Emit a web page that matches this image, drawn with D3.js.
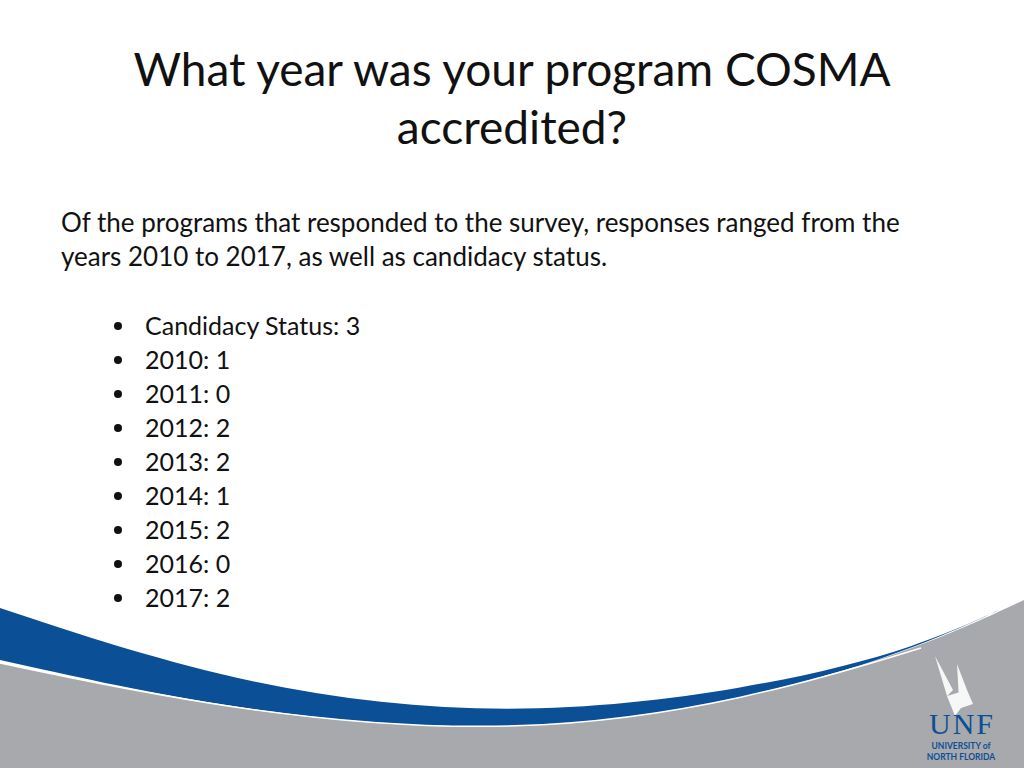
<!DOCTYPE html>
<html><head><meta charset="utf-8">
<script src="https://cdn.jsdelivr.net/npm/d3@7"></script>
<style>body{margin:0;background:#fff}svg{display:block}</style>
</head><body>
<svg id="slide" width="1024" height="768"></svg>
<script>
'use strict';

var titleLines = ['What year was your program COSMA', 'accredited?'];
var introLines = ['Of the programs that responded to the survey, responses ranged from the',
  'years 2010 to 2017, as well as candidacy status.'];
var categories = ['Candidacy Status', '2010', '2011', '2012', '2013', '2014', '2015', '2016', '2017'];
var counts = [3, 1, 0, 2, 2, 1, 2, 0, 2];

var svg = d3.select('#slide');
var font = 'Lato, "Open Sans", sans-serif';

// background swoosh
var line = d3.line().curve(d3.curveBasis);
svg.append('path')
  .attr('d', line([[0,663],[250,715],[523,735],[750,700],[921,648],[1024,600]]) + 'L1024,768L0,768Z')
  .attr('fill', '#a7a9ac');
svg.append('path')
  .attr('d', line([[0,608],[250,690],[510,718],[750,690],[921,648],[1030,595]]) +
    line([[1030,595],[921,648],[750,700],[523,735],[250,715],[0,660]]).replace('M','L') + 'Z')
  .attr('fill', '#0b4f96');
svg.append('path')
  .attr('d', line([[0,663],[250,715],[523,735],[750,700],[921,648]]))
  .attr('fill', 'none').attr('stroke', '#fff').attr('stroke-width', 1.5);

// logo
var logo = svg.append('g').attr('transform', 'translate(961,0)');
logo.append('path')
  .attr('d', 'M-26,656 L-8,690 L-14,696 Z M-4,664 L6,690 L-2,700 Z M-14,696 L6,690 L12,704 L0,708 L-6,716 Z')
  .attr('fill', '#fff').attr('opacity', 0.9);
logo.append('text').attr('x', 0).attr('y', 734).attr('text-anchor', 'middle')
  .attr('font-family', '"Liberation Serif", serif').attr('font-size', 30).attr('fill', '#0b4f96')
  .attr('textLength', 64).text('UNF');
logo.append('text').attr('x', 0).attr('y', 749).attr('text-anchor', 'middle')
  .attr('font-family', font).attr('font-size', 8.5).attr('font-weight', 'bold').attr('fill', '#0b4f96')
  .text('UNIVERSITY of');
logo.append('text').attr('x', 0).attr('y', 760).attr('text-anchor', 'middle')
  .attr('font-family', font).attr('font-size', 8.5).attr('font-weight', 'bold').attr('fill', '#0b4f96')
  .text('NORTH FLORIDA');

// title
svg.selectAll('text.title').data(titleLines).enter().append('text')
  .attr('class', 'title')
  .attr('x', 512).attr('y', function(d, i) { return 86 + i * 58 })
  .attr('text-anchor', 'middle').attr('font-family', font).attr('font-size', 46).attr('fill', '#111')
  .text(function(d) { return d });

svg.selectAll('text.intro').data(introLines).enter().append('text')
  .attr('class', 'intro')
  .attr('x', 61).attr('y', function(d, i) { return 232 + i * 34 })
  .attr('font-family', font).attr('font-size', 26).attr('fill', '#111')
  .text(function(d) { return d });

var y = d3.scaleBand().domain(categories).range([318, 624]);
var items = svg.selectAll('g.item').data(categories).enter().append('g')
  .attr('class', 'item')
  .attr('transform', function(d) { return 'translate(0,' + (y(d) + y.bandwidth() / 2) + ')' });
items.append('circle').attr('cx', 118).attr('cy', -9).attr('r', 4).attr('fill', '#111');
items.append('text').attr('x', 145).attr('y', 0)
  .attr('font-family', font).attr('font-size', 25).attr('fill', '#111')
  .text(function(d, i) { return d + ': ' + counts[i] });
</script>
</body></html>
